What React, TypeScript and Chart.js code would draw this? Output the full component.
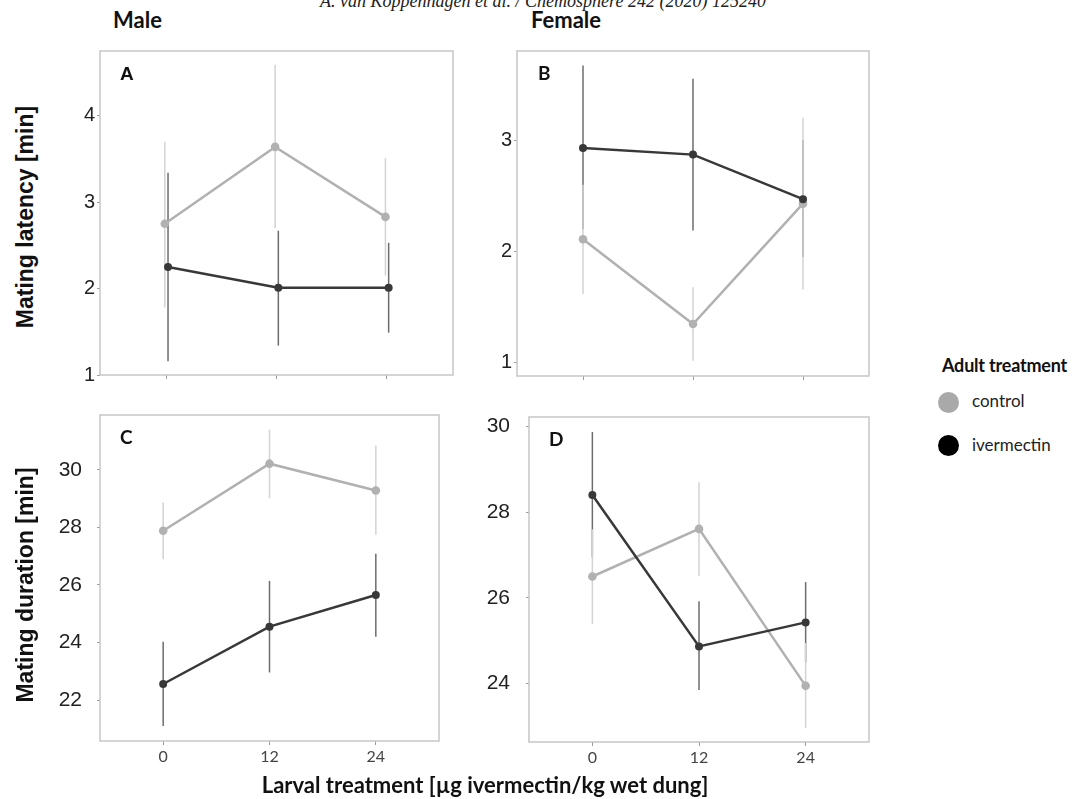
import React, { useEffect, useRef } from 'react';
import { Chart, registerables } from 'chart.js';

Chart.register(...registerables);

// ---- data ----
const larvalDoses = [0, 12, 24];
const xTickLabels = ['0', '12', '24'];

// Panel A: male mating latency
const latencyMaleTicks = [1, 2, 3, 4];
const latencyMaleControl = [2.75, 3.64, 2.83];
const latencyMaleControlLow = [1.78, 2.70, 2.15];
const latencyMaleControlHigh = [3.70, 4.59, 3.51];
const latencyMaleIver = [2.25, 2.01, 2.01];
const latencyMaleIverLow = [1.16, 1.34, 1.49];
const latencyMaleIverHigh = [3.34, 2.67, 2.53];

// Panel B: female mating latency
const latencyFemaleTicks = [1, 2, 3];
const latencyFemaleControl = [2.11, 1.35, 2.43];
const latencyFemaleControlLow = [1.62, 1.02, 1.66];
const latencyFemaleControlHigh = [2.60, 1.68, 3.20];
const latencyFemaleIver = [2.93, 2.87, 2.47];
const latencyFemaleIverLow = [2.20, 2.19, 1.95];
const latencyFemaleIverHigh = [3.67, 3.55, 3.00];

// Panel C: male mating duration
const durationMaleTicks = [22, 24, 26, 28, 30];
const durationMaleControl = [27.88, 30.21, 29.28];
const durationMaleControlLow = [26.89, 29.01, 27.74];
const durationMaleControlHigh = [28.86, 31.39, 30.83];
const durationMaleIver = [22.56, 24.55, 25.65];
const durationMaleIverLow = [21.10, 22.96, 24.20];
const durationMaleIverHigh = [24.03, 26.14, 27.08];

// Panel D: female mating duration
const durationFemaleTicks = [24, 26, 28, 30];
const durationFemaleControl = [26.50, 27.61, 23.95];
const durationFemaleControlLow = [25.39, 26.52, 22.97];
const durationFemaleControlHigh = [27.60, 28.70, 24.95];
const durationFemaleIver = [28.40, 24.87, 25.43];
const durationFemaleIverLow = [26.95, 23.85, 24.50];
const durationFemaleIverHigh = [29.87, 25.92, 26.37];

// ---- styles ----
const CONTROL_LINE = '#b1b1b1';
const CONTROL_ERR = '#d3d3d3';
const IVER_LINE = '#383838';
const IVER_ERR = '#6c6c6c';
const Y_AXIS_W = 60;
const X_AXIS_H = 40;
const PAD_T = 10;
const PAD_R = 10;

type Series = { mean: number[]; low: number[]; high: number[] };

type PanelProps = {
  box: { left: number; top: number; width: number; height: number };
  xRange: [number, number];
  yRange: [number, number];
  yTicks: number[];
  showXLabels: boolean;
  yLabelPad: number;
  yFontSize: number;
  control: Series;
  iver: Series;
  dodge: [number, number];
};

const framePlugin = {
  id: 'frame',
  beforeDatasetsDraw(chart: any) {
    const { ctx, chartArea } = chart;
    const { left, top, right, bottom } = chartArea;
    ctx.save();
    ctx.strokeStyle = '#c6c6c6';
    ctx.lineWidth = 1.5;
    ctx.strokeRect(left, top, right - left, bottom - top);
    ctx.restore();
  },
};

function Panel(p: PanelProps) {
  const ref = useRef<HTMLCanvasElement | null>(null);
  const width = Y_AXIS_W + p.box.width + PAD_R;
  const height = PAD_T + p.box.height + X_AXIS_H;

  useEffect(() => {
    if (!ref.current) return;
    const xsC = larvalDoses.map((d) => d + p.dodge[0]);
    const xsI = larvalDoses.map((d) => d + p.dodge[1]);
    const errSets = (xs: number[], s: Series, color: string, order: number) =>
      xs.map((x, i) => ({
        type: 'line' as const,
        data: [
          { x, y: s.low[i] },
          { x, y: s.high[i] },
        ],
        borderColor: color,
        borderWidth: 1.5,
        pointRadius: 0,
        fill: false,
        order,
      }));
    const chart = new Chart(ref.current, {
      type: 'line',
      data: {
        datasets: [
          {
            label: 'ivermectin',
            data: xsI.map((x, i) => ({ x, y: p.iver.mean[i] })),
            borderColor: IVER_LINE,
            backgroundColor: IVER_LINE,
            borderWidth: 2.5,
            pointRadius: 4,
            pointBorderWidth: 0,
            tension: 0,
            order: 0,
          },
          {
            label: 'control',
            data: xsC.map((x, i) => ({ x, y: p.control.mean[i] })),
            borderColor: CONTROL_LINE,
            backgroundColor: CONTROL_LINE,
            borderWidth: 2.5,
            pointRadius: 4.3,
            pointBorderWidth: 0,
            tension: 0,
            order: 1,
          },
          ...errSets(xsC, p.control, CONTROL_ERR, 2),
          ...errSets(xsI, p.iver, IVER_ERR, 3),
        ] as any,
      },
      options: {
        responsive: false,
        maintainAspectRatio: false,
        animation: false,
        layout: { padding: { top: PAD_T, right: PAD_R, left: 0, bottom: 0 } },
        plugins: { legend: { display: false }, tooltip: { enabled: false } },
        scales: {
          x: {
            type: 'linear',
            min: p.xRange[0],
            max: p.xRange[1],
            offset: false,
            afterBuildTicks: (s: any) => {
              s.ticks = larvalDoses.map((v) => ({ value: v }));
            },
            afterFit: (s: any) => {
              s.height = X_AXIS_H;
              s.paddingLeft = 0;
              s.paddingRight = 0;
            },
            grid: { drawOnChartArea: false, drawTicks: true, tickLength: 4, color: '#9a9a9a' },
            border: { display: false },
            ticks: {
              autoSkip: false,
              maxRotation: 0,
              padding: 2,
              color: '#444',
              font: { family: 'Lato', size: 16 },
              callback: (_v: any, i: number) => (p.showXLabels ? xTickLabels[i] : ''),
            },
          },
          y: {
            type: 'linear',
            min: p.yRange[0],
            max: p.yRange[1],
            afterBuildTicks: (s: any) => {
              s.ticks = p.yTicks.map((v) => ({ value: v }));
            },
            afterFit: (s: any) => {
              s.width = Y_AXIS_W;
              s.paddingTop = 0;
              s.paddingBottom = 0;
            },
            grid: { drawOnChartArea: false, drawTicks: true, tickLength: 3, color: '#9a9a9a' },
            border: { display: false },
            ticks: {
              padding: p.yLabelPad,
              color: '#222',
              font: { family: 'Liberation Sans', size: p.yFontSize },
              callback: (v: any) => String(v),
            },
          },
        },
      } as any,
      plugins: [framePlugin],
    });
    return () => chart.destroy();
  }, []);

  return (
    <canvas
      ref={ref}
      width={width}
      height={height}
      style={{
        position: 'absolute',
        left: p.box.left - Y_AXIS_W,
        top: p.box.top - PAD_T,
        width,
        height,
      }}
    />
  );
}

function Txt(props: {
  x: number;
  y: number;
  size: number;
  text: string;
  family?: string;
  weight?: number;
  italic?: boolean;
  color?: string;
  center?: boolean;
  spacing?: number;
}) {
  return (
    <div
      style={{
        position: 'absolute',
        left: props.x,
        top: props.y,
        fontSize: props.size,
        lineHeight: 1,
        fontFamily: props.family || 'Lato',
        fontWeight: props.weight || 400,
        fontStyle: props.italic ? 'italic' : 'normal',
        color: props.color || '#111',
        whiteSpace: 'nowrap',
        letterSpacing: props.spacing || 0,
        transform: props.center ? 'translateX(-50%)' : undefined,
      }}
    >
      {props.text}
    </div>
  );
}

function VTitle(props: { cx: number; cy: number; text: string }) {
  return (
    <div
      style={{
        position: 'absolute',
        left: props.cx,
        top: props.cy,
        fontSize: 23,
        lineHeight: 1,
        fontFamily: 'Liberation Sans',
        fontWeight: 700,
        color: '#111',
        whiteSpace: 'nowrap',
        transform: 'translate(-50%, -50%) rotate(-90deg)',
      }}
    >
      {props.text}
    </div>
  );
}

export default function App() {
  return (
    <div
      style={{
        position: 'absolute',
        left: 0,
        top: 0,
        width: 1075,
        height: 799,
        background: '#fff',
        overflow: 'hidden',
      }}
    >
      <Txt
        x={543}
        y={-8}
        size={18}
        family="Liberation Serif"
        italic
        center
        color="#222"
        text="A. van Koppenhagen et al. / Chemosphere 242 (2020) 125240"
      />
      <Txt x={113} y={9} size={22} weight={700} text="Male" />
      <Txt x={531} y={9} size={22} weight={700} text="Female" />

      <Panel
        box={{ left: 100, top: 51, width: 353, height: 324 }}
        xRange={[-7.2, 31.2]}
        yRange={[1, 4.75]}
        yTicks={latencyMaleTicks}
        showXLabels={false}
        yLabelPad={2}
        yFontSize={20}
        dodge={[-0.15, 0.2]}
        control={{ mean: latencyMaleControl, low: latencyMaleControlLow, high: latencyMaleControlHigh }}
        iver={{ mean: latencyMaleIver, low: latencyMaleIverLow, high: latencyMaleIverHigh }}
      />
      <Panel
        box={{ left: 517, top: 51, width: 352, height: 325 }}
        xRange={[-7.2, 31.2]}
        yRange={[0.883, 3.8]}
        yTicks={latencyFemaleTicks}
        showXLabels={false}
        yLabelPad={2}
        yFontSize={20}
        dodge={[0, 0]}
        control={{ mean: latencyFemaleControl, low: latencyFemaleControlLow, high: latencyFemaleControlHigh }}
        iver={{ mean: latencyFemaleIver, low: latencyFemaleIverLow, high: latencyFemaleIverHigh }}
      />
      <Panel
        box={{ left: 100, top: 415, width: 339, height: 326 }}
        xRange={[-7.13, 31.13]}
        yRange={[20.58, 31.9]}
        yTicks={durationMaleTicks}
        showXLabels={true}
        yLabelPad={15}
        yFontSize={21}
        dodge={[0, 0]}
        control={{ mean: durationMaleControl, low: durationMaleControlLow, high: durationMaleControlHigh }}
        iver={{ mean: durationMaleIver, low: durationMaleIverLow, high: durationMaleIverHigh }}
      />
      <Panel
        box={{ left: 529, top: 417, width: 340, height: 325 }}
        xRange={[-7.13, 31.13]}
        yRange={[22.64, 30.22]}
        yTicks={durationFemaleTicks}
        showXLabels={true}
        yLabelPad={16}
        yFontSize={21}
        dodge={[0, 0]}
        control={{ mean: durationFemaleControl, low: durationFemaleControlLow, high: durationFemaleControlHigh }}
        iver={{ mean: durationFemaleIver, low: durationFemaleIverLow, high: durationFemaleIverHigh }}
      />

      <Txt x={120} y={64} size={19} family="Liberation Sans" weight={700} text="A" />
      <Txt x={538} y={63} size={19} weight={700} text="B" />
      <Txt x={120} y={427} size={19} weight={700} text="C" />
      <Txt x={549} y={429} size={19} weight={700} text="D" />

      <VTitle cx={25} cy={217} text="Mating latency [min]" />
      <VTitle cx={25} cy={585} text="Mating duration [min]" />

      <Txt x={485} y={774} size={22} weight={700} center text="Larval treatment [µg ivermectin/kg wet dung]" />

      <Txt x={942} y={356} size={18} weight={700} spacing={-0.2} text="Adult treatment" />
      <div
        style={{
          position: 'absolute',
          left: 948 - 10.5,
          top: 402 - 10.5,
          width: 21,
          height: 21,
          borderRadius: '50%',
          background: '#a9a9a9',
        }}
      />
      <div
        style={{
          position: 'absolute',
          left: 948 - 10.5,
          top: 445 - 10.5,
          width: 21,
          height: 21,
          borderRadius: '50%',
          background: '#000',
        }}
      />
      <Txt x={972} y={392} size={17} color="#222" text="control" />
      <Txt x={972} y={436} size={17} color="#222" text="ivermectin" />
    </div>
  );
}
